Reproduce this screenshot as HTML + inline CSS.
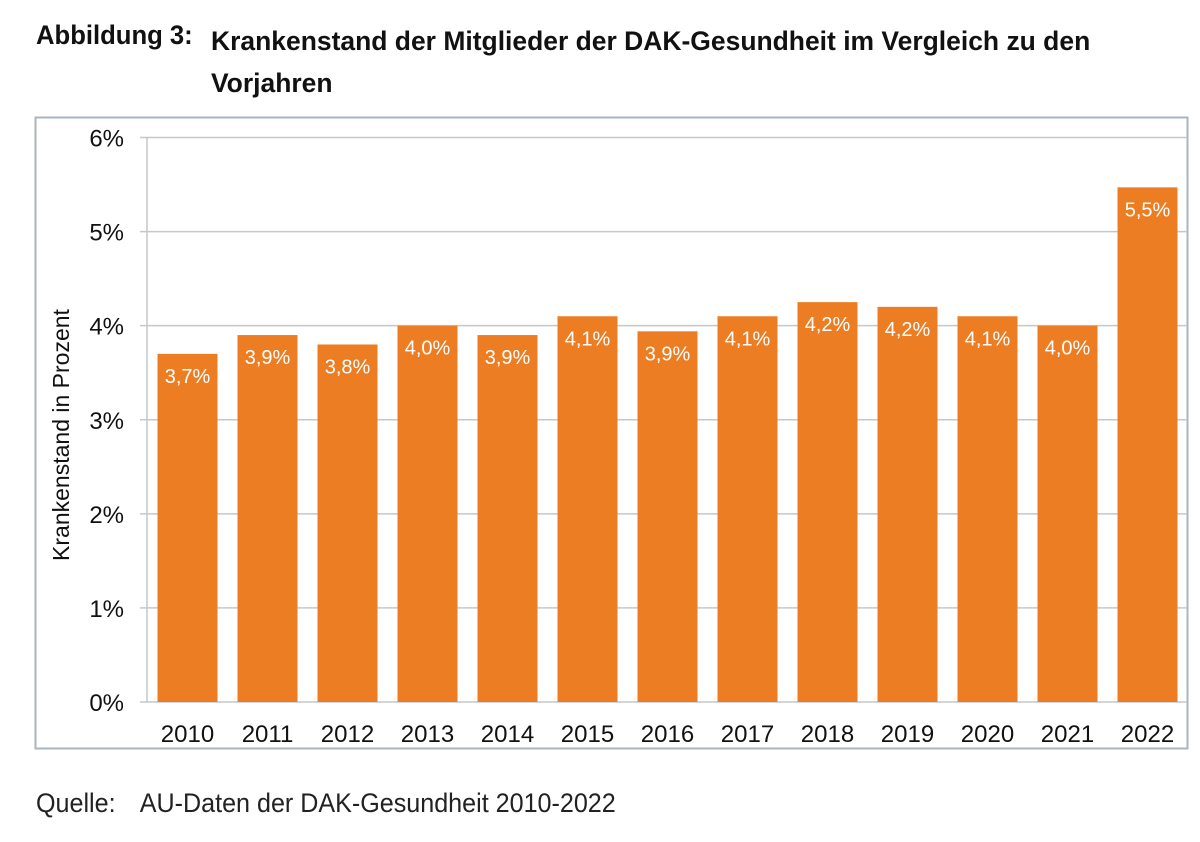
<!DOCTYPE html>
<html><head><meta charset="utf-8"><style>
body{margin:0;background:#fff;width:1200px;height:842px;overflow:hidden;font-family:"Liberation Sans",sans-serif}
.t{position:absolute;font-family:"Liberation Sans Narrow","Liberation Sans",sans-serif;font-weight:bold;font-size:27px;color:#111;transform:scaleX(0.98);transform-origin:left top;white-space:nowrap}
</style></head><body>
<div class="t" style="left:36px;top:20px;transform:scaleX(0.95)">Abbildung 3:</div>
<div class="t" style="left:211px;top:20px;line-height:42px">Krankenstand der Mitglieder der DAK-Gesundheit im Vergleich zu den<br>Vorjahren</div>
<div style="position:absolute;left:36px;top:788px;font-size:27px;color:#222;transform:scaleX(0.93);transform-origin:left top;white-space:nowrap">Quelle:<span style="display:inline-block;width:26px"></span>AU-Daten der DAK-Gesundheit 2010-2022</div>
<svg id="c" width="1200" height="842" style="position:absolute;left:0;top:0">
<rect x="35.5" y="117.5" width="1152" height="631" fill="none" stroke="#a9b6c2" stroke-width="2"/>
</svg>
<script>
const years=["2010","2011","2012","2013","2014","2015","2016","2017","2018","2019","2020","2021","2022"];
const values=[3.7,3.9,3.8,4.0,3.9,4.1,3.94,4.1,4.25,4.2,4.1,4.0,5.47];
const labels=["3,7%","3,9%","3,8%","4,0%","3,9%","4,1%","3,9%","4,1%","4,2%","4,2%","4,1%","4,0%","5,5%"];
const yTicks=[0,1,2,3,4,5,6];
const svg=document.getElementById('c');const NS='http://www.w3.org/2000/svg';
const x0=147,bandW=80,y0=702,yTop=137.5,yMax=6;
const y=v=>y0-(v/yMax)*(y0-yTop);
function mk(t,a,txt){const e=document.createElementNS(NS,t);for(const k in a)e.setAttribute(k,a[k]);if(txt!==undefined)e.textContent=txt;svg.appendChild(e);return e;}
yTicks.forEach(t=>{
 const g=mk('line',{x1:140,x2:1187,y1:y(t),y2:y(t),stroke:'#c4c8cc','stroke-width':1.5});
 
 
 const l=mk('text',{x:124,y:y(t)+9,'text-anchor':'end','font-size':24,fill:'#111'},t+'%');
 
 
});
const ax=mk('line',{x1:x0,x2:x0,y1:yTop,y2:y0,stroke:'#c4c8cc','stroke-width':1.5});


years.forEach((yr,i)=>{
 const bx=x0+i*bandW+10.5;
 const b=mk('rect',{x:bx,y:y(values[i]),width:60,height:y0-y(values[i]),fill:'#ec7d22'});
 
 
 const v=mk('text',{x:bx+30,y:y(values[i])+29,'text-anchor':'middle','font-size':20,fill:'#fff'},labels[i]);
 
 
 const xl=mk('text',{x:bx+30,y:742,'text-anchor':'middle','font-size':24,fill:'#111'},yr);
 
 
});
const yt=mk('text',{x:0,y:0,'text-anchor':'middle','font-size':23,fill:'#111',transform:'translate(69,435) rotate(-90)'},'Krankenstand in Prozent');


</script>
</body></html>
